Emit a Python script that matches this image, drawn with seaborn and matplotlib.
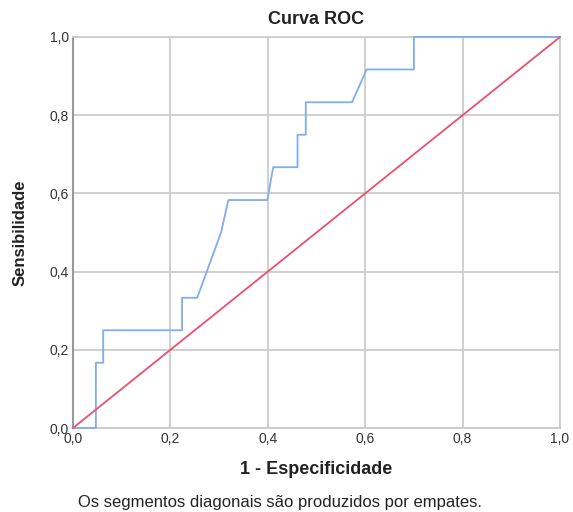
import pandas as pd
import matplotlib.pyplot as plt
import seaborn as sns
from matplotlib.ticker import FuncFormatter

# ROC curve points
fpr = [0.0, 0.047, 0.047, 0.062, 0.062, 0.224, 0.224, 0.255, 0.304, 0.319,
       0.399, 0.411, 0.461, 0.461, 0.478, 0.478, 0.573, 0.603, 0.700, 0.700, 1.0]
tpr = [0.0, 0.0, 0.167, 0.167, 0.25, 0.25, 0.333, 0.333, 0.5, 0.583,
       0.583, 0.667, 0.667, 0.75, 0.75, 0.833, 0.833, 0.917, 0.917, 1.0, 1.0]
ref_x = [0.0, 1.0]
ref_y = [0.0, 1.0]
ticks = [0.0, 0.2, 0.4, 0.6, 0.8, 1.0]

roc = pd.DataFrame({'fpr': fpr, 'tpr': tpr})
ref = pd.DataFrame({'x': ref_x, 'y': ref_y})

sns.set_style('white')
plt.rcParams['font.family'] = ['Liberation Sans', 'DejaVu Sans']

fig = plt.figure(figsize=(5.73, 5.12), dpi=100)
ax = fig.add_axes([73 / 573, 1 - 428 / 512, 487 / 573, 391 / 512])

sns.lineplot(data=roc, x='fpr', y='tpr', sort=False, estimator=None,
             color='#7fadf0', linewidth=1.3, ax=ax)
sns.lineplot(data=ref, x='x', y='y', sort=False, estimator=None,
             color='#e8506e', linewidth=1.3, ax=ax)
# draw curves over the frame, as in the original
for ln in ax.lines:
    ln.set_clip_on(False)
    ln.set_zorder(3)

ax.set_xlim(0, 1)
ax.set_ylim(0, 1)
ax.set_xticks(ticks)
ax.set_yticks(ticks)
comma = FuncFormatter(lambda v, p: f'{v:.1f}'.replace('.', ','))
ax.xaxis.set_major_formatter(comma)
ax.yaxis.set_major_formatter(comma)
ax.tick_params(length=0, pad=3, labelsize=10, labelcolor='#333333')
ax.grid(True, color='#cccccc', linewidth=1.3)
ax.set_axisbelow(True)
for side in ['top', 'right', 'bottom']:
    ax.spines[side].set_color('#cccccc')
    ax.spines[side].set_linewidth(1.3)
ax.spines['left'].set_color('#999999')
ax.spines['left'].set_linewidth(1.5)

ax.set_title('Curva ROC', fontsize=13, fontweight='bold', pad=9, color='#222222')
ax.set_xlabel('1 - Especificidade', fontsize=13, fontweight='bold', labelpad=11, color='#222222')
ax.set_ylabel('Sensibilidade', fontsize=12, fontweight='bold', labelpad=16, color='#222222')

fig.text(280 / 573, 1 - 503 / 512, 'Os segmentos diagonais são produzidos por empates.',
         ha='center', va='center', fontsize=12, color='#222222')

fig.savefig('out.png', dpi=100)
